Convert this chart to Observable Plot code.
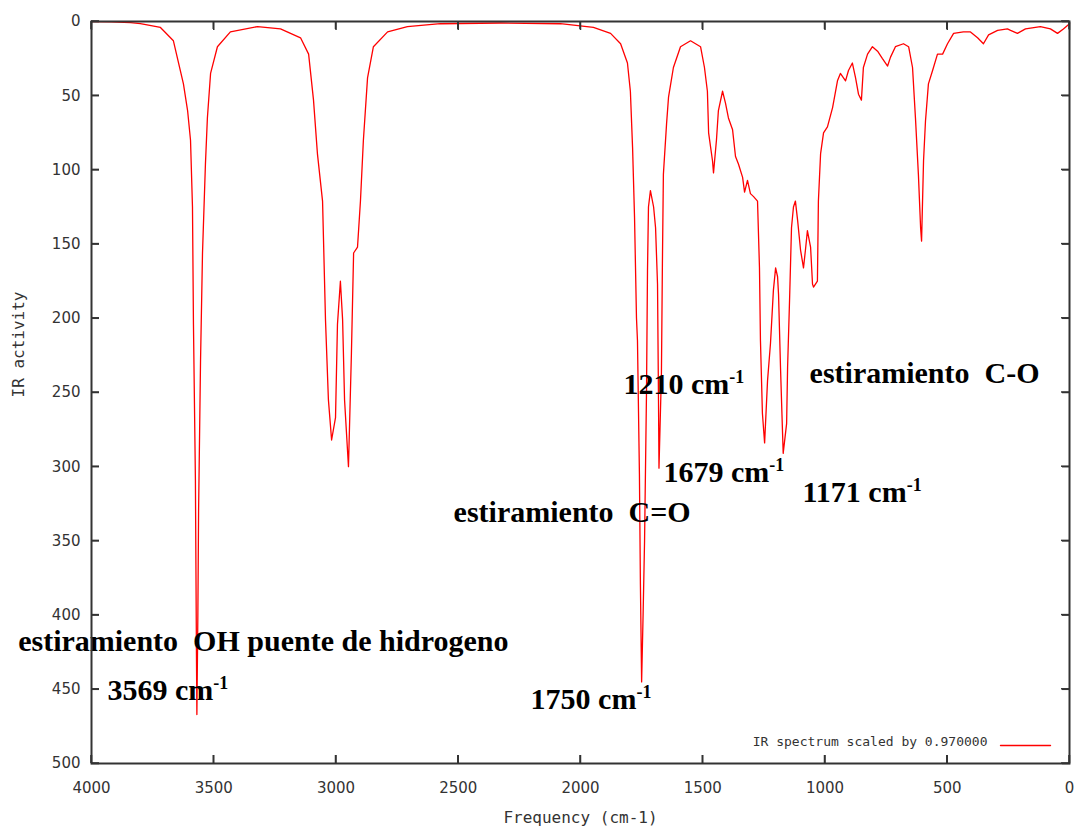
<!DOCTYPE html>
<html>
<head>
<meta charset="utf-8">
<script src="https://cdn.jsdelivr.net/npm/d3@7"></script>
<script src="https://cdn.jsdelivr.net/npm/@observablehq/plot@0.6"></script>
<style>
  html, body { margin: 0; padding: 0; background: #fff; }
  #chart svg { display: block; }
</style>
</head>
<body>
<div id="chart"></div>
<script>
// IR spectrum: wavenumber (cm-1) and IR activity
const wavenumber = [
  4000, 3920, 3840, 3800, 3718, 3665, 3624, 3607, 3595, 3587, 3583, 3575, 3571, 3569, 3565, 3562,
  3554, 3546, 3534, 3526, 3513, 3485, 3432, 3321, 3227, 3145, 3112, 3092, 3076, 3055, 3043, 3031,
  3018, 3002, 2994, 2982, 2973, 2965, 2949, 2937, 2928, 2912, 2900, 2888, 2871, 2847, 2789, 2708,
  2573, 2327, 2082, 1947, 1877, 1836, 1808, 1796, 1787, 1779, 1771, 1767, 1759, 1755, 1750, 1744,
  1738, 1730, 1726, 1722, 1714, 1701, 1693, 1685, 1681, 1679, 1669, 1665, 1661, 1648, 1640, 1620,
  1591, 1550, 1509, 1493, 1481, 1476, 1460, 1456, 1444, 1436, 1419, 1407, 1395, 1378, 1366, 1354,
  1337, 1329, 1317, 1305, 1292, 1276, 1268, 1264, 1256, 1247, 1235, 1223, 1211, 1202, 1194, 1190,
  1182, 1176, 1171, 1157, 1153, 1145, 1137, 1129, 1121, 1112, 1100, 1088, 1080, 1072, 1059, 1051,
  1047, 1031, 1027, 1018, 1006, 990, 969, 949, 937, 916, 904, 888, 875, 863, 851, 843,
  826, 806, 785, 765, 744, 732, 712, 679, 658, 642, 630, 618, 609, 605, 597, 589,
  577, 560, 540, 519, 499, 474, 434, 405, 376, 352, 331, 294, 254, 241, 213, 180,
  119, 78, 49, 25, 0
];
const activity = [
  0, 0.3, 0.7, 1.5, 4, 13, 42, 60, 80, 125, 204, 309, 420, 467, 400, 330,
  228, 156, 96, 65, 35, 17, 7, 3.4, 5, 11, 22, 53, 89, 121, 201, 255,
  282, 267, 204, 175, 201, 255, 300, 224, 156, 152, 121, 80, 38, 17, 7, 3.4,
  1.5, 1, 1.5, 4, 8, 15, 28, 47, 85, 132, 200, 215, 305, 379, 445, 400,
  350, 249, 168, 125, 114, 125, 139, 177, 255, 301, 237, 163, 103, 69, 51, 31,
  17, 13, 17, 31, 47, 75, 94, 102, 80, 60, 47, 55, 65, 73, 91, 96,
  105, 115, 107, 116, 118, 121, 166, 215, 264, 284, 242, 217, 181, 166, 172, 184,
  233, 265, 291, 271, 233, 188, 139, 125, 121, 134, 154, 166, 154, 141, 152, 177,
  179, 175, 121, 89, 75, 71, 58, 40, 35, 40, 33, 28, 38, 49, 53, 31,
  22, 17, 20, 25, 30, 24, 17, 15, 17, 31, 65, 103, 139, 148, 94, 67,
  42, 33, 22, 22, 15, 8, 7, 7, 11, 15, 9, 6, 5, 6, 8, 5,
  3.4, 5, 8, 5, 1.5
];

const xTicks = [4000, 3500, 3000, 2500, 2000, 1500, 1000, 500, 0];
const yTicks = [0, 50, 100, 150, 200, 250, 300, 350, 400, 450, 500];

// Band annotations, anchored in data units (start of text, baseline)
const noteText = [
  "estiramiento  OH puente de hidrogeno",
  "3569 cm-1",
  "estiramiento  C=O",
  "1750 cm-1",
  "1210 cm-1",
  "1679 cm-1",
  "1171 cm-1",
  "estiramiento  C-O"
];
const noteX = [4300, 3935, 2519, 2204, 1824, 1661, 1092, 1063];
const noteY = [424.5, 457.5, 337.6, 463, 250.7, 310.6, 324.1, 243.9];

const legendText = "IR spectrum scaled by 0.970000";
const xLabel = "Frequency (cm-1)";
const yLabel = "IR activity";

const spectrum = wavenumber.map((w, i) => ({w, a: activity[i]}));
const notes = noteText.map((t, i) => ({t, x: noteX[i], y: noteY[i]}));

const axisInk = "#333";
const tickLen = 8;
// gnuplot-style border ticks point inward (negative tick size)
const labelled = {tickSize: -tickLen, tickFormat: "d", fontSize: 15, fontFamily: "DejaVu Sans",
  color: axisInk, strokeWidth: 1.5, label: null};
const bare = {tickSize: -tickLen, stroke: axisInk, fill: "none", strokeWidth: 1.5, label: null};

// a plain straight segment used for the legend sample
const segment = {draw(context, l) { context.moveTo(0, 0); context.lineTo(0, -l); }};

const chart = Plot.plot({
  width: 1080,
  height: 832,
  marginLeft: 91,
  marginRight: 11,
  marginTop: 21,
  marginBottom: 69,
  style: {background: "#fff", overflow: "visible"},
  x: {domain: [4000, 0], label: null},
  y: {domain: [0, 500], reverse: true, label: null},
  marks: [
    Plot.line(spectrum, {x: "w", y: "a", stroke: "#ff0000", strokeWidth: 1.3}),
    Plot.text([xLabel], {frameAnchor: "bottom", dy: 59, fontFamily: "DejaVu Sans Mono", fontSize: 16, fill: axisInk}),
    Plot.text([yLabel], {frameAnchor: "left", dx: -73, dy: 5, rotate: -90, fontFamily: "DejaVu Sans Mono", fontSize: 16, fill: axisInk}),
    Plot.text([legendText], {frameAnchor: "bottom-right", dx: -82, dy: -18, textAnchor: "end",
      fontFamily: "DejaVu Sans Mono", fontSize: 13, fill: axisInk}),
    Plot.vector([null], {frameAnchor: "bottom-right", dx: -19, dy: -18, length: 50, rotate: 90,
      anchor: "end", shape: segment, stroke: "#ff0000", strokeWidth: 1.4}),
    Plot.text(notes, {x: "x", y: "y", text: "t", textAnchor: "start", lineAnchor: "bottom",
      fontFamily: "Liberation Serif", fontWeight: "bold", fontSize: 30, fill: "#000"}),
    // border and inward ticks drawn last so nothing covers them
    Plot.frame({stroke: axisInk, strokeWidth: 2}),
    Plot.axisX(xTicks, {anchor: "bottom", tickPadding: 27, ...labelled}),
    Plot.axisY(yTicks, {anchor: "left", tickPadding: 19, ...labelled}),
    Plot.axisX(xTicks, {anchor: "top", ...bare}),
    Plot.axisY(yTicks, {anchor: "right", ...bare})
  ]
});

// keep doubled spaces and raise the "-1" exponent of the wavenumber units
d3.select(chart).selectAll("text").each(function () {
  const s = this.textContent;
  if (s.includes("  ")) this.style.whiteSpace = "pre";
  if (/ cm-1$/.test(s) && this.childElementCount === 0) {
    this.textContent = s.slice(0, -2);
    d3.select(this).append("tspan").attr("font-size", 18).attr("dy", -11).text("-1");
  }
});

// reinforce the inward border ticks through the chart's own x and y scales
{
  const sx = chart.scale("x"), sy = chart.scale("y");
  const [x0, x1] = sx.range, [yb, yt] = [Math.max(...sy.range), Math.min(...sy.range)];
  const left = Math.min(x0, x1), right = Math.max(x0, x1);
  const g = d3.select(chart).append("g").attr("stroke", axisInk).attr("stroke-width", 1.5);
  for (const v of xTicks) {
    const px = sx.apply(v);
    g.append("line").attr("x1", px).attr("x2", px).attr("y1", yb).attr("y2", yb - tickLen);
    g.append("line").attr("x1", px).attr("x2", px).attr("y1", yt).attr("y2", yt + tickLen);
  }
  for (const v of yTicks) {
    const py = sy.apply(v);
    g.append("line").attr("x1", left).attr("x2", left + tickLen).attr("y1", py).attr("y2", py);
    g.append("line").attr("x1", right).attr("x2", right - tickLen).attr("y1", py).attr("y2", py);
  }
}

document.getElementById("chart").appendChild(chart);
</script>
</body>
</html>
